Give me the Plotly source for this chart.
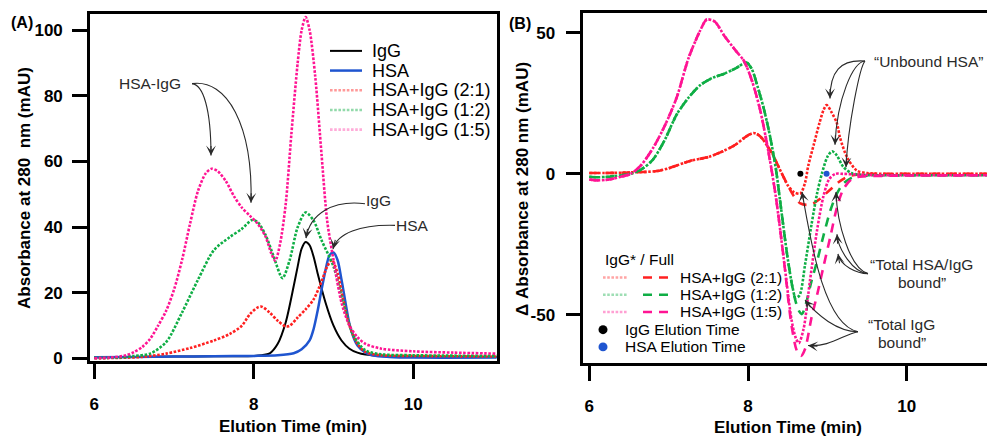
import plotly.graph_objects as go

# ---------------- DATA ----------------
# Panel A: chromatograms
igg_x = [6.0, 6.5, 7.0, 7.5, 8.0, 8.1, 8.2, 8.3, 8.4, 8.5, 8.55, 8.6, 8.65, 8.7, 8.75, 8.8, 8.9, 9.0, 9.1, 9.2, 9.3, 9.4, 9.6, 10.0, 10.5, 11.05]
igg_y = [0.4, 0.5, 0.6, 0.7, 0.8, 1.0, 1.6, 4.5, 11, 22, 28, 33.5, 35.5, 34.5, 31, 26, 17, 10, 5.5, 3, 1.8, 1.2, 0.8, 0.6, 0.5, 0.5]

hsa_x = [6.0, 6.5, 7.0, 7.5, 8.0, 8.3, 8.5, 8.6, 8.7, 8.75, 8.8, 8.85, 8.9, 8.95, 9.0, 9.05, 9.1, 9.15, 9.2, 9.25, 9.3, 9.4, 9.5, 9.7, 10.0, 11.05]
hsa_y = [0.4, 0.5, 0.6, 0.7, 0.8, 1.0, 1.6, 2.8, 5.5, 9, 14.5, 21, 27, 31.5, 32.3, 30, 24, 17, 10.5, 6.5, 4, 1.8, 0.9, 0.5, 0.3, 0.3]

mix21_x = [6.0, 6.3, 6.6, 6.9, 7.2, 7.5, 7.7, 7.85, 7.95, 8.05, 8.1, 8.2, 8.3, 8.4, 8.45, 8.55, 8.65, 8.75, 8.85, 8.92, 8.98, 9.05, 9.12, 9.2, 9.3, 9.4, 9.6, 10.0, 11.05]
mix21_y = [0.1, 0.2, 0.5, 1.5, 3.2, 5.5, 7.5, 10, 13.5, 15.6, 15.8, 14, 11.5, 9.8, 10, 12.5, 15, 18, 23.5, 28, 30, 26, 18, 10, 4.5, 2, 1, 0.8, 0.6]

mix12_x = [6.0, 6.3, 6.5, 6.7, 6.9, 7.1, 7.3, 7.5, 7.7, 7.85, 7.98, 8.05, 8.15, 8.25, 8.36, 8.45, 8.55, 8.65, 8.75, 8.85, 9.0, 9.12, 9.25, 9.4, 9.6, 10.0, 11.05]
mix12_y = [0.2, 0.3, 0.8, 1.5, 5, 14, 24, 33, 37, 39.5, 42.2, 41.5, 37.5, 31, 24.5, 30, 40, 44.5, 42, 36, 28, 17, 7, 2.5, 1.3, 1, 0.8]

mix15_x = [6.0, 6.2, 6.4, 6.5, 6.6, 6.7, 6.8, 6.9, 7.0, 7.1, 7.2, 7.3, 7.4, 7.47, 7.55, 7.65, 7.75, 7.85, 7.95, 8.05, 8.15, 8.22, 8.27, 8.33, 8.4, 8.47, 8.55, 8.6, 8.65, 8.7, 8.77, 8.85, 8.92, 9.0, 9.1, 9.2, 9.3, 9.4, 9.6, 10.0, 10.5, 11.05]
mix15_y = [0.1, 0.3, 1, 2, 3.5, 6, 10, 14.5, 21, 30, 41, 51, 56.5, 57.8, 57, 54, 49.5, 46, 43.5, 41, 37, 32, 29.8, 35, 47, 68, 90, 100, 104, 100, 86, 62, 42, 30, 17, 10, 6.5, 4.5, 3, 2.2, 1.8, 1.5]

# Panel B: difference chromatograms (IgG* dotted / Full dashed)
d21_dot_x = [6.0, 6.2, 6.5, 6.85, 7.0, 7.27, 7.5, 7.69, 7.85, 7.94, 8.02, 8.07, 8.12, 8.18, 8.24, 8.3, 8.36, 8.42, 8.5, 8.58, 8.66, 8.72, 8.76, 8.83, 8.9, 8.95, 8.99, 9.05, 9.12, 9.16, 9.25, 9.37, 9.5, 9.7, 10.0, 11.02]
d21_dot_y = [0.3, 0.3, 0.5, 1, 2, 4.6, 6, 8.1, 10.5, 12.5, 14, 14.5, 14, 12.5, 10, 7.5, 4, 0.5, -4, -6.5, -7, -3, 3, 10.5, 18, 22.5, 24.4, 22, 18, 12.8, 5.8, 1.2, 0.3, 0, 0, 0]
d21_dash_x = [6.0, 6.2, 6.5, 6.85, 7.0, 7.27, 7.5, 7.69, 7.85, 7.94, 8.02, 8.07, 8.12, 8.18, 8.24, 8.3, 8.36, 8.42, 8.5, 8.58, 8.66, 8.74, 8.82, 8.9, 8.98, 9.06, 9.14, 9.22, 9.3, 9.4, 9.6, 10.0, 11.02]
d21_dash_y = [0.3, 0.3, 0.5, 1, 2, 4.6, 6, 8.1, 10.5, 12.5, 14, 14.5, 14, 12.5, 10, 7.5, 4, 0.5, -4, -8, -10.5, -11, -10.5, -9, -7, -5, -3, -1.5, -0.6, -0.2, 0, 0, 0]

d12_dot_x = [6.0, 6.1, 6.25, 6.4, 6.52, 6.65, 6.8, 6.95, 7.1, 7.25, 7.4, 7.55, 7.7, 7.85, 7.98, 8.05, 8.12, 8.2, 8.28, 8.35, 8.42, 8.5, 8.56, 8.6, 8.65, 8.72, 8.8, 8.87, 8.93, 9.0, 9.06, 9.12, 9.2, 9.3, 9.4, 9.7, 10.0, 11.02]
d12_dot_y = [-1, -1.2, -1, -0.5, 0, 1.5, 5, 12, 21, 27, 31.5, 34, 35.5, 37.5, 39.5, 37, 31, 23, 13, 2, -13, -30, -40, -44, -43, -32, -18, -7, 0, 6, 8, 6.5, 2.5, 0.3, -0.3, -0.5, -0.5, -0.5]
d12_dash_x = [6.0, 6.1, 6.25, 6.4, 6.52, 6.65, 6.8, 6.95, 7.1, 7.25, 7.4, 7.55, 7.7, 7.85, 7.98, 8.05, 8.12, 8.2, 8.28, 8.35, 8.42, 8.5, 8.58, 8.64, 8.68, 8.73, 8.8, 8.87, 8.95, 9.04, 9.12, 9.2, 9.3, 9.4, 9.7, 10.0, 11.02]
d12_dash_y = [-1, -1.2, -1, -0.5, 0, 1.5, 5, 12, 21, 27, 31.5, 34, 35.5, 37.5, 39.5, 37, 31, 23, 13, 2, -13, -30, -43, -48.5, -49.7, -46, -38, -31, -22, -12.8, -7, -3.5, -1.5, -0.8, -0.6, -0.5, -0.5]

d15_dot_x = [6.0, 6.1, 6.25, 6.4, 6.52, 6.65, 6.8, 6.95, 7.1, 7.25, 7.4, 7.48, 7.58, 7.7, 7.85, 7.95, 8.05, 8.15, 8.25, 8.35, 8.45, 8.55, 8.6, 8.64, 8.7, 8.78, 8.87, 8.95, 9.02, 9.1, 9.2, 9.4, 9.7, 10.0, 11.02]
d15_dot_y = [-2, -2.3, -2, -1, 0, 3, 9, 17, 27, 41, 51, 54.7, 54, 49, 43.5, 40, 33, 23, 9, -8, -30, -52, -58, -60, -55, -38, -20, -8, -2, 0, 0, -0.3, -0.5, -0.5, -0.5]
d15_dash_x = [6.0, 6.1, 6.25, 6.4, 6.52, 6.65, 6.8, 6.95, 7.1, 7.25, 7.4, 7.48, 7.58, 7.7, 7.85, 7.95, 8.05, 8.15, 8.25, 8.35, 8.45, 8.55, 8.62, 8.67, 8.72, 8.8, 8.87, 8.95, 9.04, 9.12, 9.2, 9.3, 9.4, 9.7, 10.0, 11.02]
d15_dash_y = [-2, -2.3, -2, -1, 0, 3, 9, 17, 27, 41, 51, 54.7, 54, 49, 43.5, 40, 33, 23, 9, -8, -30, -54, -63, -64.5, -62, -51, -43, -33, -22, -12, -5.5, -2, -1, -0.7, -0.6, -0.5]

elution_names = ["IgG Elution Time", "HSA Elution Time"]
elution_x = [8.66, 8.99]
elution_y = [0, 0]

mix_names = ["HSA+IgG (2:1)", "HSA+IgG (1:2)", "HSA+IgG (1:5)"]
a_ticks = [0, 20, 40, 60, 80, 100]
b_ticks = [-50, 0, 50]
x_ticks = [6, 8, 10]

# ---------------- STYLE ----------------
FONT = "Arial, Liberation Sans, sans-serif"
RED = "#ff2020"
GREEN = "#0fae45"
MAGENTA = "#ff1493"
BLUE = "#1f55d0"
BLACK = "#000000"
ANN = "#2a2a2a"
W, H = 987, 443

# panel boxes in pixels
A_L, A_R, A_T, A_B = 90.0, 496.7, 14.0, 367.0
B_L, B_R, B_T, B_B = 583.3, 987.0, 13.0, 369.0
A_XR, A_YR = [5.946, 11.046], [-0.81, 105.0]
B_XR, B_YR = [5.924, 11.012], [-67.1, 57.1]


def a_xy(px, py):
    return (A_XR[0] + (px - A_L) / (A_R - A_L) * (A_XR[1] - A_XR[0]),
            A_YR[1] - (py - A_T) / (A_B - A_T) * (A_YR[1] - A_YR[0]))


def b_xy(px, py):
    return (B_XR[0] + (px - B_L) / (B_R - B_L) * (B_XR[1] - B_XR[0]),
            B_YR[1] - (py - B_T) / (B_B - B_T) * (B_YR[1] - B_YR[0]))


def pp(px, py):
    return px / W, 1 - py / H


def bold_labels(vals):
    return ["<b>%s</b>" % v for v in vals]


fig = go.Figure()

LW_DOT = 2.6
DOT = "2.6px,1.6px"
DASH = "9px,7px"

# Panel A traces
fig.add_trace(go.Scatter(x=igg_x, y=igg_y, name="IgG", mode="lines", line=dict(color=BLACK, width=2, shape="spline", smoothing=0.8), xaxis="x", yaxis="y", showlegend=False))
fig.add_trace(go.Scatter(x=hsa_x, y=hsa_y, name="HSA", mode="lines", line=dict(color=BLUE, width=2.5, shape="spline", smoothing=0.8), xaxis="x", yaxis="y", showlegend=False))
for xs, ys, c, n in [(mix21_x, mix21_y, RED, mix_names[0]), (mix12_x, mix12_y, GREEN, mix_names[1]), (mix15_x, mix15_y, MAGENTA, mix_names[2])]:
    fig.add_trace(go.Scatter(x=xs, y=ys, name=n, mode="lines", line=dict(color=c, width=LW_DOT, dash=DOT, shape="spline", smoothing=0.8), xaxis="x", yaxis="y", showlegend=False))

# Panel B traces
for xs, ys, xd, yd, c, n in [(d21_dot_x, d21_dot_y, d21_dash_x, d21_dash_y, RED, mix_names[0]),
                             (d12_dot_x, d12_dot_y, d12_dash_x, d12_dash_y, GREEN, mix_names[1]),
                             (d15_dot_x, d15_dot_y, d15_dash_x, d15_dash_y, MAGENTA, mix_names[2])]:
    fig.add_trace(go.Scatter(x=xd, y=yd, name=n + " Full", mode="lines", line=dict(color=c, width=2.6, dash=DASH, shape="spline", smoothing=0.8), xaxis="x2", yaxis="y2", showlegend=False))
    fig.add_trace(go.Scatter(x=xs, y=ys, name=n + " IgG*", mode="lines", line=dict(color=c, width=LW_DOT, dash=DOT, shape="spline", smoothing=0.8), xaxis="x2", yaxis="y2", showlegend=False))

for n, xv, yv, c in zip(elution_names, elution_x, elution_y, [BLACK, BLUE]):
    fig.add_trace(go.Scatter(x=[xv], y=[yv], name=n, mode="markers", marker=dict(color=c, size=6), xaxis="x2", yaxis="y2", showlegend=False))

axis_common = dict(showline=True, linecolor=BLACK, linewidth=2.6, ticks="outside", ticklen=15, tickwidth=2.6,
                   tickcolor=BLACK, showgrid=False, zeroline=False,
                   tickfont=dict(family=FONT, size=17, color=BLACK, weight="bold"))

fig.update_layout(
    width=W, height=H, margin=dict(l=0, r=0, t=0, b=0),
    paper_bgcolor="white", plot_bgcolor="white", showlegend=False,
    xaxis=dict(domain=[A_L / W, A_R / W], range=A_XR, tickvals=x_ticks, ticktext=bold_labels(x_ticks), ticklabelstandoff=11,
               mirror=True, anchor="y", **axis_common),
    yaxis=dict(domain=[1 - A_B / H, 1 - A_T / H], range=A_YR, tickvals=a_ticks, ticktext=bold_labels(a_ticks), ticklabelstandoff=6,
               mirror=True, anchor="x", **axis_common),
    xaxis2=dict(domain=[B_L / W, 1.0], range=B_XR, tickvals=x_ticks, ticktext=bold_labels(x_ticks), ticklabelstandoff=11,
                mirror=True, anchor="y2", **axis_common),
    yaxis2=dict(domain=[1 - B_B / H, 1 - B_T / H], range=B_YR, tickvals=b_ticks, ticktext=bold_labels(b_ticks), ticklabelstandoff=7,
                mirror=False, anchor="x2", **axis_common),
)

shapes = []
anns = []


def text(px, py, s, size=15.5, bold=False, anchor="center", color=ANN, angle=0):
    x, y = pp(px, py)
    anns.append(dict(x=x, y=y, xref="paper", yref="paper", text=s, showarrow=False, xanchor=anchor, yanchor="middle",
                     textangle=angle, font=dict(family=FONT, size=size, color=color, weight="bold" if bold else "normal")))


def curve_arrow(conv, xref, yref, p0, c1, c2, p1):
    pts = [conv(*p) for p in (p0, c1, c2, p1)]
    path = "M {},{} C {},{} {},{} {},{}".format(*[v for pt in pts for v in pt])
    shapes.append(dict(type="path", xref=xref, yref=yref, path=path, line=dict(color=ANN, width=1.1)))
    dx, dy = c2[0] - p1[0], c2[1] - p1[1]
    n = (dx * dx + dy * dy) ** 0.5
    ex, ey = conv(*p1)
    anns.append(dict(x=ex, y=ey, xref=xref, yref=yref, text="", showarrow=True, arrowhead=3, arrowsize=1.5,
                     arrowwidth=1.1, arrowcolor=ANN, ax=dx / n * 11, ay=dy / n * 11, standoff=0))


# Panel labels & axis titles
text(22, 23, "(A)", size=16, bold=True, color=BLACK)
text(520, 24, "(B)", size=16, bold=True, color=BLACK)
text(25, 191, "Absorbance at 280  nm (mAU)", size=17, bold=True, color=BLACK, angle=-90)
text(293, 433, "Elution Time (min)", size=17, bold=True, color=BLACK)
text(523, 192, "Δ Absorbance at 280 nm (mAU)", size=17, bold=True, color=BLACK, angle=-90)
text(788, 434, "Elution Time (min)", size=17, bold=True, color=BLACK)

# Panel A annotations
text(150, 85, "HSA-IgG")
curve_arrow(a_xy, "x", "y", (192, 85), (203, 86), (211, 110), (211, 158))
curve_arrow(a_xy, "x", "y", (192, 85), (227, 80), (253, 127), (251, 206))
text(378, 204, "IgG")
curve_arrow(a_xy, "x", "y", (365, 207), (333, 203), (310, 217), (306, 242))
text(412, 229, "HSA")
curve_arrow(a_xy, "x", "y", (395, 229), (360, 228), (337, 237), (333, 253))

# Panel A legend
legA = [(BLACK, None, 2, "IgG", 1.0), (BLUE, None, 2.5, "HSA", 1.0),
        (RED, DOT, LW_DOT, mix_names[0], 0.45), (GREEN, DOT, LW_DOT, mix_names[1], 0.45), (MAGENTA, DOT, LW_DOT, mix_names[2], 0.35)]
for i, (c, d, lw, s, op) in enumerate(legA):
    py = 51.7 + 20 * i
    x0, y0 = pp(330, py)
    x1, _ = pp(362, py)
    shapes.append(dict(type="line", xref="paper", yref="paper", x0=x0, x1=x1, y0=y0, y1=y0, opacity=op,
                       line=dict(color=c, width=lw, dash=d if d else "solid")))
    text(370, py, s, size=18, anchor="left", color=BLACK)

# Panel B annotations
text(928, 62, "“Unbound HSA”")
curve_arrow(b_xy, "x2", "y2", (865, 62), (840, 60), (830, 73), (830, 100))
curve_arrow(b_xy, "x2", "y2", (865, 62), (853, 63), (837, 100), (835, 147))
curve_arrow(b_xy, "x2", "y2", (865, 62), (860, 67), (848, 127), (846, 170))
text(921.7, 269, "“Total HSA/IgG")
text(921.7, 287.5, "bound”")
curve_arrow(b_xy, "x2", "y2", (868, 278), (850, 273), (837, 227), (836, 195))
curve_arrow(b_xy, "x2", "y2", (868, 278), (853, 277), (838, 253), (837, 238))
curve_arrow(b_xy, "x2", "y2", (868, 278), (857, 278), (840, 270), (838, 258))
text(901.7, 330, "“Total IgG")
text(901.7, 348.5, "bound”")
curve_arrow(b_xy, "x2", "y2", (858, 337), (823, 330), (810, 240), (802, 195))
curve_arrow(b_xy, "x2", "y2", (858, 337), (837, 337), (817, 320), (805, 305))
curve_arrow(b_xy, "x2", "y2", (858, 337), (843, 340), (830, 353), (808, 351))

# Panel B legend
text(603, 264, "IgG* / Full", size=15.5, anchor="left", color=BLACK)
for i, (c, s) in enumerate(zip([RED, GREEN, MAGENTA], mix_names)):
    py = 282 + 17.5 * i
    x0, y0 = pp(603, py)
    x1, _ = pp(628, py)
    shapes.append(dict(type="line", xref="paper", yref="paper", x0=x0, x1=x1, y0=y0, y1=y0, opacity=0.4,
                       line=dict(color=c, width=LW_DOT, dash=DOT)))
    x0, _ = pp(643, py)
    x1, _ = pp(672, py)
    shapes.append(dict(type="line", xref="paper", yref="paper", x0=x0, x1=x1, y0=y0, y1=y0,
                       line=dict(color=c, width=2.6, dash=DASH)))
    text(678, py, s, size=15.5, anchor="left", color=BLACK)
for i, (c, s) in enumerate(zip([BLACK, BLUE], elution_names)):
    py = 335 + 17.5 * i
    cx, cy = pp(603, py)
    shapes.append(dict(type="circle", xref="paper", yref="paper", x0=cx - 4.5 / W, x1=cx + 4.5 / W,
                       y0=cy - 4.5 / H, y1=cy + 4.5 / H, fillcolor=c, line=dict(width=0)))
    text(623, py, s, size=15.5, anchor="left", color=BLACK)

fig.update_layout(shapes=shapes, annotations=anns)
fig.write_html("out.html")
